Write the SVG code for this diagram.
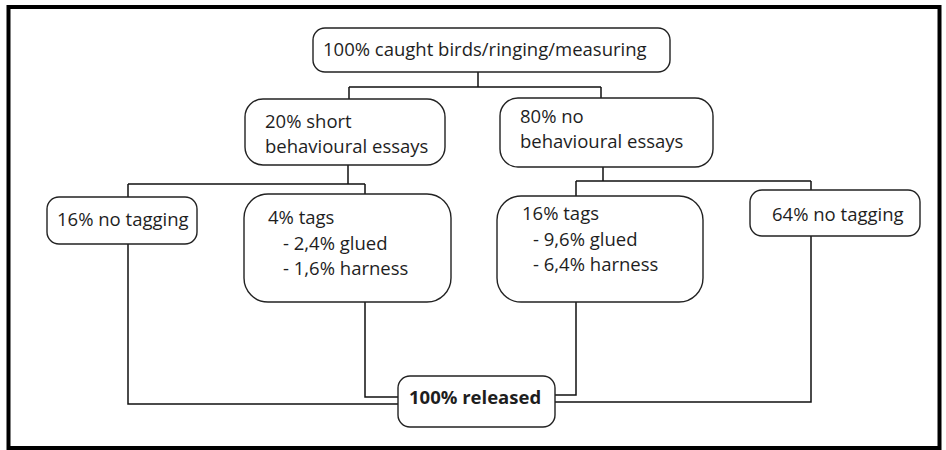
<svg xmlns="http://www.w3.org/2000/svg" width="946" height="450" viewBox="0 0 946 450">
<style>
.box{fill:#fff;stroke:#222;stroke-width:1.4}
.t{font-family:"Open Sans","Liberation Sans",sans-serif;font-size:18.5px;fill:#1e1e1e}
.b{font-weight:bold}
.c{fill:none;stroke:#111;stroke-width:1.5}
</style>
<rect x="0" y="0" width="946" height="450" fill="#fff"/>
<rect x="8.5" y="7" width="931" height="441" fill="none" stroke="#000" stroke-width="4"/>
<g id="connectors" class="c">
<path d="M478,72 V87 M349,87 H601 M349,87 V99 M601,87 V98"/>
<path d="M348,165 V184 M128,184 H365 M128,184 V197 M365,184 V194"/>
<path d="M603,167 V181 M576,181 H811 M576,181 V196 M811,181 V190"/>
<path d="M128,244 V404 H398 M365,302 V397 H398 M576,302 V395 H555 M811,236 V402 H555"/>
</g>
<g id="n-top"><rect class="box" x="313" y="28" width="357" height="44" rx="12"/><text class="t" x="323" y="56">100% caught birds/ringing/measuring</text></g>
<g id="n-20"><rect class="box" x="245" y="99" width="200" height="66" rx="18"/><text class="t" x="265" y="128">20% short</text><text class="t" x="265" y="153">behavioural essays</text></g>
<g id="n-80"><rect class="box" x="500" y="98" width="213" height="69" rx="18"/><text class="t" x="520" y="123">80% no</text><text class="t" x="520" y="148">behavioural essays</text></g>
<g id="n-16no"><rect class="box" x="47" y="197" width="150" height="47" rx="12"/><text class="t" x="57" y="226">16% no tagging</text></g>
<g id="n-4tags"><rect class="box" x="244" y="194" width="207" height="108" rx="24"/><text class="t" x="268" y="224">4% tags</text><text class="t" x="283" y="250">- 2,4% glued</text><text class="t" x="283" y="275">- 1,6% harness</text></g>
<g id="n-16tags"><rect class="box" x="497" y="196" width="206" height="106" rx="24"/><text class="t" x="522" y="220">16% tags</text><text class="t" x="533" y="246">- 9,6% glued</text><text class="t" x="533" y="271">- 6,4% harness</text></g>
<g id="n-64no"><rect class="box" x="750" y="190" width="170" height="46" rx="12"/><text class="t" x="772" y="221">64% no tagging</text></g>
<g id="n-rel"><rect class="box" x="398" y="376" width="157" height="51" rx="12"/><text class="t b" x="409" y="404">100% released</text></g>
</svg>
